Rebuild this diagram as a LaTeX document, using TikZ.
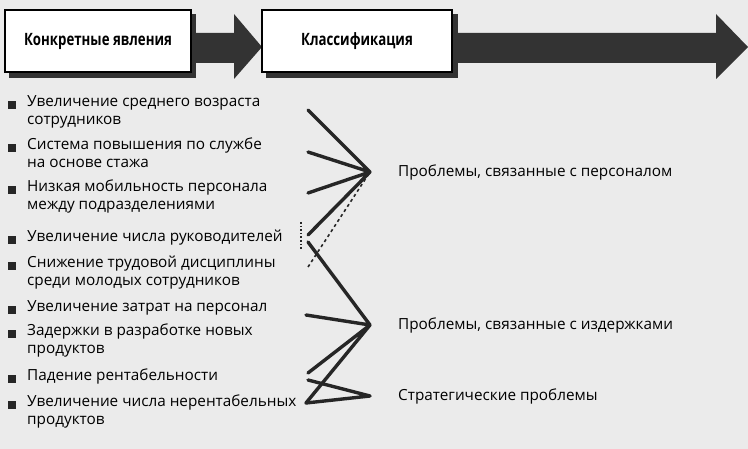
\documentclass[tikz,border=0pt]{standalone}
\usepackage{fontspec}
\usepackage{graphicx}
\setmainfont{Open Sans}
\begin{document}
\begin{tikzpicture}[x=1pt,y=-1pt,
  hdr/.style={draw=black,line width=1.6pt,fill=white,minimum height=62pt,font=\bfseries\fontsize{17}{19}\selectfont},
  item/.style={anchor=north west,align=left,font=\fontsize{15.3}{18}\selectfont,inner sep=0pt},
  bul/.style={fill=black!85,minimum size=8pt,inner sep=0pt},
  lbl/.style={anchor=west,font=\fontsize{15.3}{18}\selectfont,inner sep=0pt},
  ln/.style={line width=3.4pt,black!85,line cap=round}]
\fill[black!8] (0,0) rectangle (748,449);
\useasboundingbox (0,0) rectangle (748,449);
% header arrows
\fill[black!80] (180,33) -- (234,33) -- (234,14) -- (262,47) -- (234,79) -- (234,63) -- (180,63) -- cycle;
\fill[black!80] (440,33) -- (716,33) -- (716,14) -- (748,47) -- (716,79) -- (716,63) -- (440,63) -- cycle;
\fill[black!80] (9,14) rectangle (196,78);
\fill[black!80] (266,14) rectangle (458,78);
\node[hdr,minimum width=186pt] (h1) at (98,41) {\scalebox{0.78}[1]{Конкретные явления}};
\node[hdr,minimum width=190pt] (h2) at (357,41) {\scalebox{0.78}[1]{Классификация}};
% items
\foreach \y in {105,148,190,240,266,310,334,379,405}{\node[bul] at (12,\y) {};}
\node[item] (i1) at (27,95) {Увеличение среднего возраста\\сотрудников};
\node[item] (i2) at (27,138) {Система повышения по службе\\на основе стажа};
\node[item] (i3) at (27,180) {Низкая мобильность персонала\\между подразделениями};
\node[item] (i4) at (27,230) {Увеличение числа руководителей};
\node[item] (i5) at (27,256) {Снижение трудовой дисциплины\\среди молодых сотрудников};
\node[item] (i6) at (27,300) {Увеличение затрат на персонал};
\node[item] (i7) at (27,324) {Задержки в разработке новых\\продуктов};
\node[item] (i8) at (27,369) {Падение рентабельности};
\node[item] (i9) at (27,395) {Увеличение числа нерентабельных\\продуктов};
% labels
\node[lbl] (p1) at (398,172) {Проблемы, связанные с персоналом};
\node[lbl] (p2) at (398,325) {Проблемы, связанные с издержками};
\node[lbl] (p3) at (398,396) {Стратегические проблемы};
\coordinate (a) at (370,172);
\coordinate (b) at (370,325);
\coordinate (c) at (370,396);
\coordinate (e1) at (308,110);
\coordinate (e2) at (308,152);
\coordinate (e3) at (308,193);
\coordinate (e4) at (308,235);
\coordinate (e5) at (308,267);
\coordinate (e6) at (308,242);
\coordinate (e7) at (306,315);
\coordinate (e8) at (308,373);
\coordinate (e9) at (308,380);
\coordinate (e10) at (306,403);
\coordinate (d1) at (301,222);
\coordinate (d2) at (301,250);
\draw[ln] (e1)--(a) (e2)--(a) (e3)--(a) (e4)--(a);
\draw[line width=1.6pt,black!85,dashed] (e5)--(a);
\draw[line width=1.6pt,black!85,dotted] (d1)--(d2);
\draw[ln] (e6)--(b) (e7)--(b) (e8)--(b) (e10)--(b);
\draw[ln] (e9)--(c) (e10)--(c);
\end{tikzpicture}
\end{document}
